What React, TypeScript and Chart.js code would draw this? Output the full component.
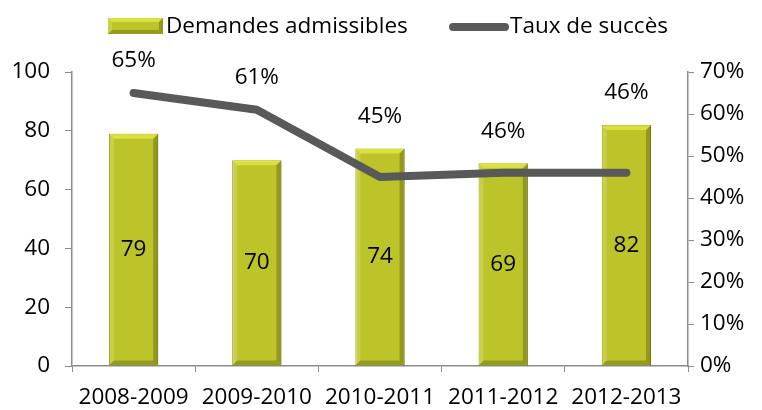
import React, { useEffect, useRef } from 'react';
import { Chart, registerables } from 'chart.js';

Chart.register(...registerables);

const periods = ['2008-2009', '2009-2010', '2010-2011', '2011-2012', '2012-2013'];
const demandes = [79, 70, 74, 69, 82];
const tauxSucces = [65, 61, 45, 46, 46];

const FONT = "'Open Sans', 'DejaVu Sans', sans-serif";
const FS = 22.5;
const BAR = '#bcc42a';
const BAR_DARK = '#868c12';
const LINE = '#595959';
const AXIS = '#8c8c8c';

// value labels on bars and line points
const labelsPlugin = {
  id: 'labels',
  afterDatasetsDraw(chart: any) {
    const ctx = chart.ctx;
    const barMeta = chart.getDatasetMeta(0);
    const lineMeta = chart.getDatasetMeta(1);
    ctx.save();
    ctx.font = `${FS}px ${FONT}`;
    ctx.fillStyle = '#000';
    ctx.textAlign = 'center';
    ctx.textBaseline = 'middle';
    barMeta.data.forEach((bar: any, i: number) => {
      const mid = (bar.y + bar.base) / 2;
      ctx.fillText(String(demandes[i]), bar.x, mid);
    });
    lineMeta.data.forEach((pt: any, i: number) => {
      const top = Math.min(pt.y, barMeta.data[i].y);
      ctx.fillText(tauxSucces[i] + '%', pt.x, top - 32);
    });
    ctx.restore();
  },
};

// bar bevel, like the office "relief" fill
function drawBevel(ctx: CanvasRenderingContext2D, x0: number, y0: number, x1: number, y1: number, b: number) {
  const face = (pts: number[][], color: string) => {
    ctx.fillStyle = color;
    ctx.beginPath();
    ctx.moveTo(pts[0][0], pts[0][1]);
    pts.slice(1).forEach(p => ctx.lineTo(p[0], p[1]));
    ctx.closePath();
    ctx.fill();
  };
  face([[x0, y0], [x0 + b, y0 + b], [x0 + b, y1 - b], [x0, y1]], 'rgba(255,255,190,0.2)');
  face([[x0, y0], [x1, y0], [x1 - b, y0 + b], [x0 + b, y0 + b]], 'rgba(240,250,80,0.55)');
  face([[x1, y0], [x1, y1], [x1 - b, y1 - b], [x1 - b, y0 + b]], 'rgba(60,60,0,0.32)');
  face([[x0, y1], [x1, y1], [x1 - b, y1 - b], [x0 + b, y1 - b]], 'rgba(60,60,0,0.3)');
}

const bevelPlugin = {
  id: 'bevel',
  afterDatasetDraw(chart: any, args: any) {
    if (args.index !== 0) return;
    const ctx = chart.ctx;
    ctx.save();
    chart.getDatasetMeta(0).data.forEach((bar: any) => {
      drawBevel(ctx, bar.x - bar.width / 2, bar.y, bar.x + bar.width / 2, bar.base, 5);
    });
    ctx.restore();
  },
};

// legend drawn by hand to get the tight office spacing
const legendPlugin = {
  id: 'customLegend',
  afterDraw(chart: any) {
    const ctx = chart.ctx;
    ctx.save();
    ctx.fillStyle = BAR;
    ctx.fillRect(108, 18, 55, 16);
    drawBevel(ctx, 108, 18, 163, 34, 4);
    ctx.strokeStyle = LINE;
    ctx.lineWidth = 8;
    ctx.lineCap = 'round';
    ctx.beginPath();
    ctx.moveTo(453, 27);
    ctx.lineTo(505, 27);
    ctx.stroke();
    ctx.font = `${FS}px ${FONT}`;
    ctx.fillStyle = '#000';
    ctx.textBaseline = 'middle';
    ctx.textAlign = 'left';
    ctx.fillText('Demandes admissibles', 166, 27);
    ctx.fillText('Taux de succès', 510, 27);
    ctx.restore();
  },
};

const App: React.FC = () => {
  const canvasRef = useRef<HTMLCanvasElement>(null);

  useEffect(() => {
    document.body.style.margin = '0';
    if (!canvasRef.current) return;
    const ctx = canvasRef.current.getContext('2d');
    if (!ctx) return;

    const tickFont = { family: FONT, size: FS };

    const chart = new Chart(ctx, {
      type: 'bar',
      data: {
        labels: periods,
        datasets: [
          {
            type: 'bar' as const,
            label: 'Demandes admissibles',
            data: demandes,
            backgroundColor: BAR,
            borderColor: BAR_DARK,
            borderWidth: 1,
            barPercentage: 0.4,
            categoryPercentage: 1,
            yAxisID: 'y',
            order: 2,
          },
          {
            type: 'line' as const,
            label: 'Taux de succès',
            data: tauxSucces,
            borderColor: LINE,
            backgroundColor: LINE,
            borderWidth: 8,
            borderCapStyle: 'round',
            borderJoinStyle: 'round',
            pointRadius: 0,
            tension: 0,
            yAxisID: 'y1',
            order: 1,
          },
        ],
      },
      options: {
        responsive: false,
        animation: false,
        layout: { padding: { left: 6, right: 0, top: 72, bottom: 0 } },
        plugins: {
          tooltip: { enabled: false },
          legend: { display: false },
        },
        scales: {
          x: {
            grid: { drawOnChartArea: false, drawTicks: true, tickLength: 6, color: AXIS, offset: true },
            border: { color: AXIS, width: 1.5 },
            ticks: { color: '#000', font: tickFont, padding: 12 },
            afterFit: (s: any) => { s.height = 44; },
          },
          y: {
            position: 'left',
            min: 0,
            max: 100,
            ticks: { stepSize: 20, color: '#000', font: tickFont, padding: 15 },
            grid: { drawOnChartArea: false, drawTicks: true, tickLength: 7, color: AXIS },
            border: { color: AXIS, width: 1.5 },
            afterFit: (s: any) => { s.width = 66; },
          },
          y1: {
            position: 'right',
            min: 0,
            max: 70,
            ticks: {
              stepSize: 10,
              color: '#000',
              font: tickFont,
              padding: 6,
              callback: (v: any) => v + '%',
            },
            grid: { drawOnChartArea: false, drawTicks: true, tickLength: 6, color: AXIS },
            border: { color: AXIS, width: 1.5 },
            afterFit: (s: any) => { s.width = 74; },
          },
        },
      },
      plugins: [bevelPlugin, labelsPlugin, legendPlugin],
    } as any);

    return () => chart.destroy();
  }, []);

  return <canvas ref={canvasRef} width={762} height={410} style={{ display: 'block' }} />;
};

export default App;
